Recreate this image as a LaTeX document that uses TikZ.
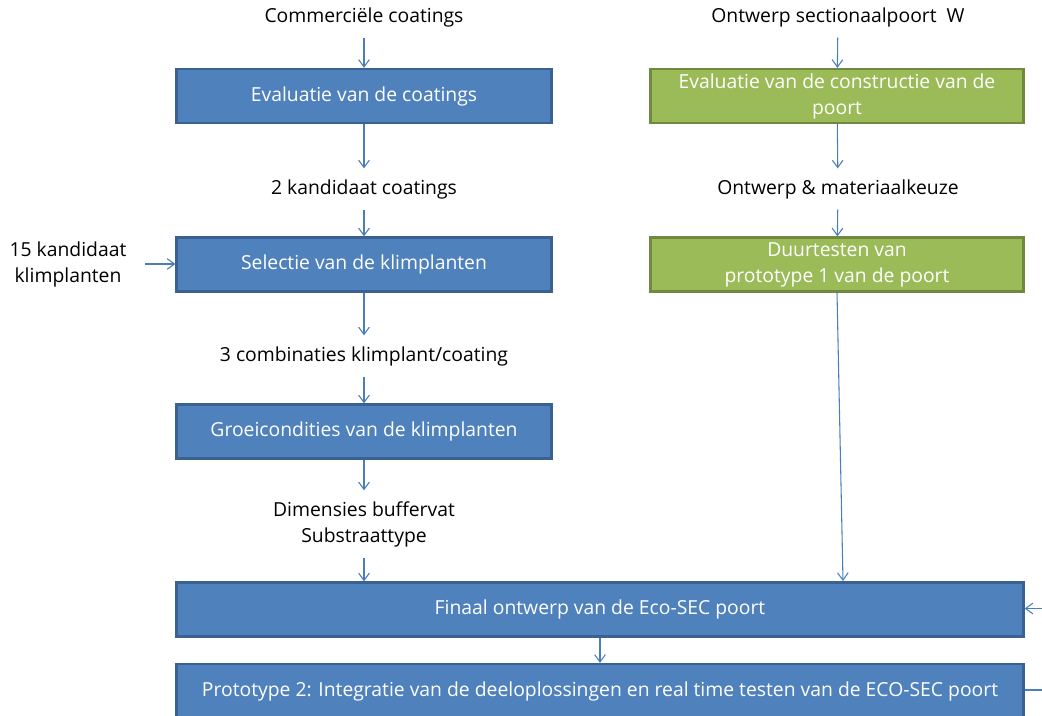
\documentclass[tikz,border=0pt]{standalone}
\usepackage{fontspec}
\setmainfont[Ligatures=NoCommon]{Open Sans}
\usetikzlibrary{arrows.meta}
\definecolor{boxblue}{HTML}{4F81BD}
\definecolor{boxblueedge}{HTML}{3A6190}
\definecolor{boxgreen}{HTML}{9BBB59}
\definecolor{boxgreenedge}{HTML}{71893F}
\definecolor{flow}{HTML}{4A7EBB}
\begin{document}
\begin{tikzpicture}[x=0.75pt,y=-0.75pt,
  every node/.style={font=\fontsize{14.5}{19.5}\selectfont},
  stagebox/.style={line width=1.7pt, text=white, align=center, inner sep=0pt,
    minimum height=54*0.75pt},
  bluebox/.style={stagebox, draw=boxblueedge, fill=boxblue},
  greenbox/.style={stagebox, draw=boxgreenedge, fill=boxgreen},
  caption/.style={align=center, inner xsep=2pt, inner ysep=8pt},
  flowline/.style={draw=flow, line width=0.8pt},
  flowarrow/.style={flowline, -{Straight Barb[length=5.5pt,width=8pt]}}
]
\useasboundingbox (0,0) rectangle (1042,716);
\clip (0,0) rectangle (1042,716);

% left column: coatings and climbing plants
\node[caption] (c0) at (364,17) {Commerciële coatings};
\node[bluebox, minimum width=375*0.75pt] (b1) at (364,96) {Evaluatie van de coatings};
\node[caption] (c1) at (364,189) {2 kandidaat coatings};
\node[bluebox, minimum width=375*0.75pt] (b2) at (364,264.5) {Selectie van de klimplanten};
\node[caption] (c2) at (364,356) {3 combinaties klimplant/coating};
\node[bluebox, minimum width=375*0.75pt] (b3) at (364,431.5) {Groeicondities van de klimplanten};
\node[caption] (c3) at (364,524) {Dimensies buffervat\\Substraattype};
\node[caption] (side) at (68,264) {15 kandidaat\\klimplanten};

% right column: gate construction
\node[caption] (r0) at (838,17) {Ontwerp sectionaalpoort\ \ W};
\node[greenbox, minimum width=373*0.75pt] (g1) at (837,96) {Evaluatie van de constructie van de\\poort};
\node[caption] (r1) at (838,189) {Ontwerp \& materiaalkeuze};
\node[greenbox, minimum width=373*0.75pt] (g2) at (837,264.5) {Duurtesten van\\prototype 1 van de poort};

% final design and second prototype
\node[bluebox, minimum width=847*0.75pt] (fin) at (600,609.5) {Finaal ontwerp van de Eco-SEC poort};
\node[bluebox, minimum width=847*0.75pt] (pro) at (600,691) {Prototype 2: Integratie van de deeloplossingen en real time testen van de ECO-SEC poort};

\coordinate (finin) at (843,581);
\coordinate (ext1) at (1042,608.5);
\coordinate (ext2) at (1042,690);
\coordinate (sidein) at (145,264);

% connectors
\draw[flowarrow] (c0) -- (b1);
\draw[flowarrow] (b1) -- (c1);
\draw[flowarrow] (c1) -- (b2);
\draw[flowarrow] (b2) -- (c2);
\draw[flowarrow] (c2) -- (b3);
\draw[flowarrow] (b3) -- (c3);
\draw[flowarrow] (c3) -- (c3 |- fin.north);
\draw[flowarrow] (sidein) -- (b2.west |- sidein);
\draw[flowarrow] (r0) -- (g1);
\draw[flowarrow] (g1) -- (r1);
\draw[flowarrow] (r1) -- (g2);
\draw[flowarrow] (g2.south) -- (finin);
\draw[flowarrow] (fin) -- (pro);
\draw[flowarrow] (ext1) -- (fin.east |- ext1);
\draw[flowline] (pro.east |- ext2) -- (ext2);
\end{tikzpicture}
\end{document}
